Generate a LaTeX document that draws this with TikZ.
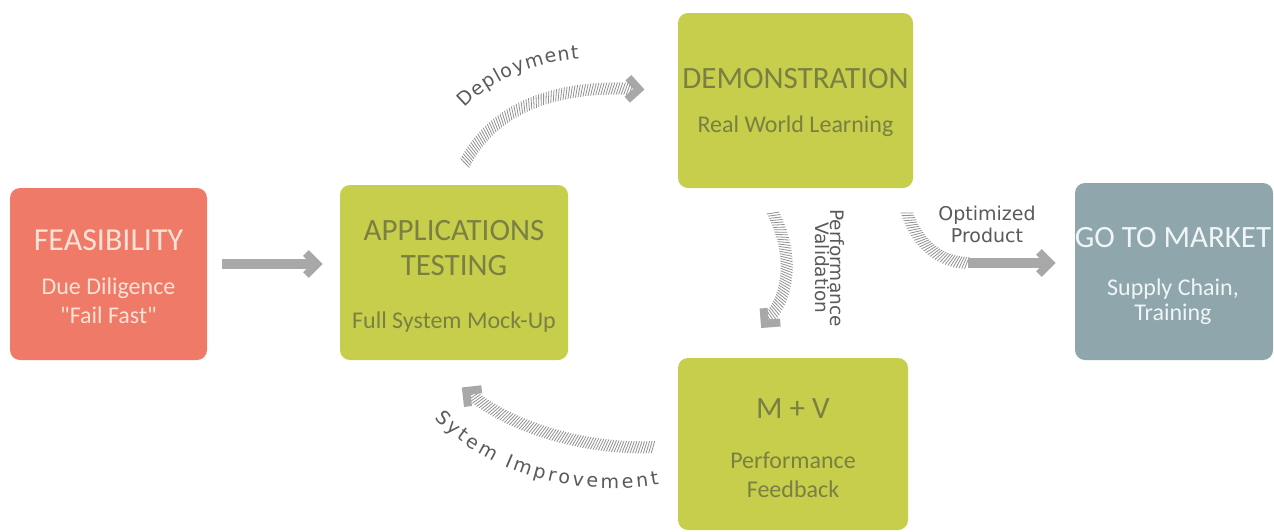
\documentclass[tikz,border=0pt]{standalone}
\usepackage{fontspec}
\setmainfont{Carlito}
\newfontfamily\quotefont{Carlito}
\newfontfamily\lblfont{DejaVu Sans}
\usetikzlibrary{decorations.markings,decorations.text}
\definecolor{salmon}{RGB}{240,122,104}
\definecolor{lime}{RGB}{198,206,76}
\definecolor{slate}{RGB}{143,166,172}
\definecolor{limetext}{RGB}{122,128,66}
\definecolor{salmontext}{RGB}{252,226,215}
\definecolor{slatetext}{RGB}{240,245,246}
\definecolor{arrowgray}{RGB}{168,168,168}
\definecolor{hatchgray}{RGB}{145,145,145}
\definecolor{labelgray}{RGB}{90,90,90}
\newcommand\boxtitle{\fontsize{31}{33}\selectfont}
\newcommand\boxsub{\fontsize{24}{26}\selectfont}
\tikzset{
  box/.style={rounded corners=10pt, inner sep=0pt, draw=none},
  ttl/.style={anchor=base, inner sep=0pt, font=\boxtitle},
  sub/.style={anchor=base, inner sep=0pt, font=\boxsub},
  headonly/.style={decorate, decoration={markings,
      mark=at position 0.999 with {\draw[arrowgray, line width=8pt, line join=miter] (-6pt,11pt) -- (5pt,0pt) -- (-6pt,-11pt);}}},
  hatchonly/.style={decorate, decoration={markings,
      mark=between positions 0 and 1 step 2.6pt with {\draw[hatchgray, line width=0.8pt] (-2pt,-6pt) -- (2pt,6pt);}}},
}
\begin{document}
\begin{tikzpicture}[x=1pt,y=-1pt]
\useasboundingbox (0,0) rectangle (1274,531);
\fill[white] (0,0) rectangle (1274,531);

% boxes
\node[box, fill=salmon, minimum width=197pt, minimum height=172pt] (feas) at (108.5,274) {};
\node[box, fill=lime, minimum width=228pt, minimum height=175pt] (app) at (454,272.5) {};
\node[box, fill=lime, minimum width=235pt, minimum height=175pt] (demo) at (795.5,100.5) {};
\node[box, fill=lime, minimum width=230pt, minimum height=172pt] (mv) at (793,444) {};
\node[box, fill=slate, minimum width=198pt, minimum height=177pt] (gtm) at (1174,271.5) {};

% box texts
\node[ttl, text=salmontext, font=\fontsize{32}{34}\selectfont] (feasA) at (108.5,250) {FEASIBILITY};
\node[sub, text=salmontext] (feasB) at (108.5,294) {Due Diligence};
\node[sub, text=salmontext, font=\quotefont\boxsub] (feasC) at (108.5,323) {"Fail Fast"};

\node[ttl, text=limetext] (appA) at (454,240) {APPLICATIONS};
\node[ttl, text=limetext] (appB) at (454,275) {TESTING};
\node[sub, text=limetext] (appC) at (454,328) {Full System Mock-Up};

\node[ttl, text=limetext] (demoA) at (795.5,88) {DEMONSTRATION};
\node[sub, text=limetext] (demoB) at (795.5,132) {Real World Learning};

\node[ttl, text=limetext] (mvA) at (793,418) {M + V};
\node[sub, text=limetext] (mvB) at (793,468) {Performance};
\node[sub, text=limetext] (mvC) at (793,497) {Feedback};

\node[ttl, text=slatetext] (gtmA) at (1173,247) {GO TO MARKET};
\node[sub, text=slatetext] (gtmB) at (1173,295) {Supply Chain,};
\node[sub, text=slatetext] (gtmC) at (1173,320) {Training};

% connector end points
\coordinate (s1) at (222,264);   \coordinate (e1) at (312,264);
\coordinate (s2) at (465,163);   \coordinate (e2) at (634,89);
\coordinate (s3) at (773,213);   \coordinate (e3) at (768,320);
\coordinate (s4) at (653,447);   \coordinate (e4) at (470,394);
\coordinate (s5) at (907,213);   \coordinate (m5) at (968,263);   \coordinate (e5) at (1045,263);

% connectors
\draw[arrowgray, line width=10pt] (s1) -- (e1);
\path[headonly] (s1) -- (e1);
\path[hatchonly] (s2) .. controls (495,105) and (560,85) .. (e2);
\path[headonly] (s2) .. controls (495,105) and (560,85) .. (e2);
\path[hatchonly] (s3) .. controls (792,250) and (792,292) .. (e3);
\path[headonly] (s3) .. controls (792,250) and (792,292) .. (e3);
\path[hatchonly] (s4) .. controls (590,450) and (515,430) .. (e4);
\path[headonly] (s4) .. controls (590,450) and (515,430) .. (e4);
\path[hatchonly] (s5) .. controls (918,245) and (940,262) .. (m5);
\draw[arrowgray, line width=10pt] (m5) -- (e5);
\path[headonly] (m5) -- (e5);

% labels
\path[decorate, decoration={text along path, text color=labelgray, text align=fit to path,
   text={|\lblfont\fontsize{19}{22}\selectfont|Deployment}}]
   (465,108) .. controls (492,80) and (530,63) .. (579,59);
\path[decorate, decoration={text along path, text color=labelgray, text align=fit to path,
   text={|\lblfont\fontsize{19}{22}\selectfont|Sytem Improvement}}]
   (435,418) .. controls (480,468) and (570,500) .. (659,484);
\node[rotate=-90, align=center, text=labelgray, inner sep=0pt,
   font=\lblfont\fontsize{18.5}{13.5}\selectfont] (pv) at (830,268) {Performance\\Validation};
\node[align=center, text=labelgray, inner sep=0pt,
   font=\lblfont\fontsize{19}{22}\selectfont] (op) at (987,224) {Optimized\\Product};
\end{tikzpicture}
\end{document}
